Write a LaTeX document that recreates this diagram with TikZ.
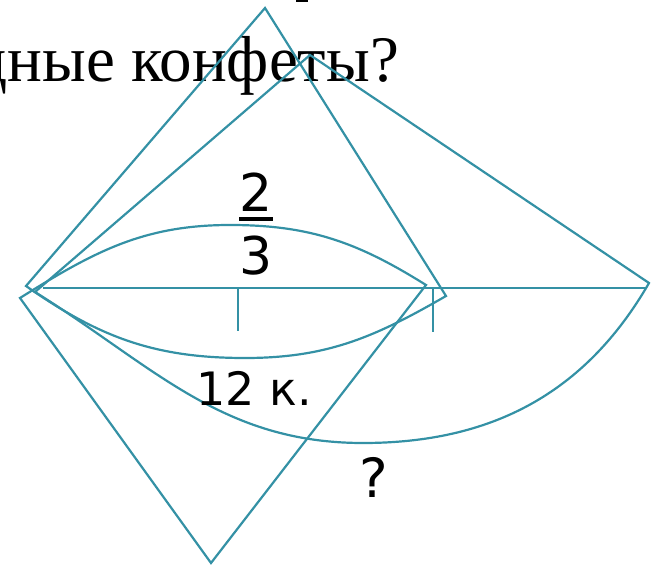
\documentclass[tikz,border=0pt]{standalone}
\usepackage{fontspec}
\setmainfont{Liberation Serif}
\newfontfamily\lblfont{DejaVu Sans}
\usepackage{tikz}
\usetikzlibrary{calc}
\definecolor{seablue}{RGB}{52,145,165}
\tikzset{
  ln/.style   ={draw=seablue, line width=2.2pt, line join=miter},
  lbl/.style  ={inner sep=0pt, anchor=base, text=black},
  qtxt/.style ={inner sep=0pt, anchor=base east, font=\fontsize{65}{65}\selectfont},
}

\begin{document}
\begin{tikzpicture}[x=1pt,y=1pt]
\useasboundingbox (0,0) rectangle (652,565);
\coordinate (tp) at (265,557);
\coordinate (bp) at (211,2);
\coordinate (mp) at (310,510);
\coordinate (u1) at (20,267);  \coordinate (utop) at (230,340); \coordinate (u2) at (426,280);
\coordinate (l1) at (26,279);  \coordinate (lbot) at (245,207); \coordinate (l2) at (446,269);
\coordinate (g1) at (35,273);  \coordinate (gbot) at (363,122); \coordinate (g2) at (649,282);
\coordinate (h1) at (43,277);  \coordinate (h2) at (645,277);
\coordinate (t1) at (238,277); \coordinate (t1e) at (238,234);
\coordinate (t2) at (433,277); \coordinate (t2e) at (433,233);
\node[qtxt] (quest) at (399,483) {дные конфеты?};
\fill (296,563) rectangle (308,565);
\draw[ln] (bp) -- (u1) to[out=32,in=180] (utop) to[out=0,in=148] (u2) -- cycle;
\draw[ln] (tp) -- (l1) to[out=-35,in=180] (lbot) to[out=0,in=-150] (l2) -- cycle;
\draw[ln] (mp) -- (g1) to[out=-32,in=180] (gbot) to[out=0,in=-120] (g2) -- cycle;
\draw[ln] (h1) -- (h2);
\draw[ln] (t1) -- (t1e);
\draw[ln] (t2) -- (t2e);
\node[lbl, font=\lblfont\fontsize{52}{52}\selectfont] (two) at (256,353) {2};
\draw[line width=4pt] ([yshift=-7pt]two.base west) -- ([yshift=-7pt]two.base east);
\node[lbl, font=\lblfont\fontsize{52}{52}\selectfont] (three) at (256,290) {3};
\node[lbl, font=\lblfont\fontsize{46}{46}\selectfont] (part) at (254,160) {12 к.};
\node[lbl, font=\lblfont\fontsize{54}{54}\selectfont] (whole) at (374,68) {?};
\end{tikzpicture}
\end{document}
